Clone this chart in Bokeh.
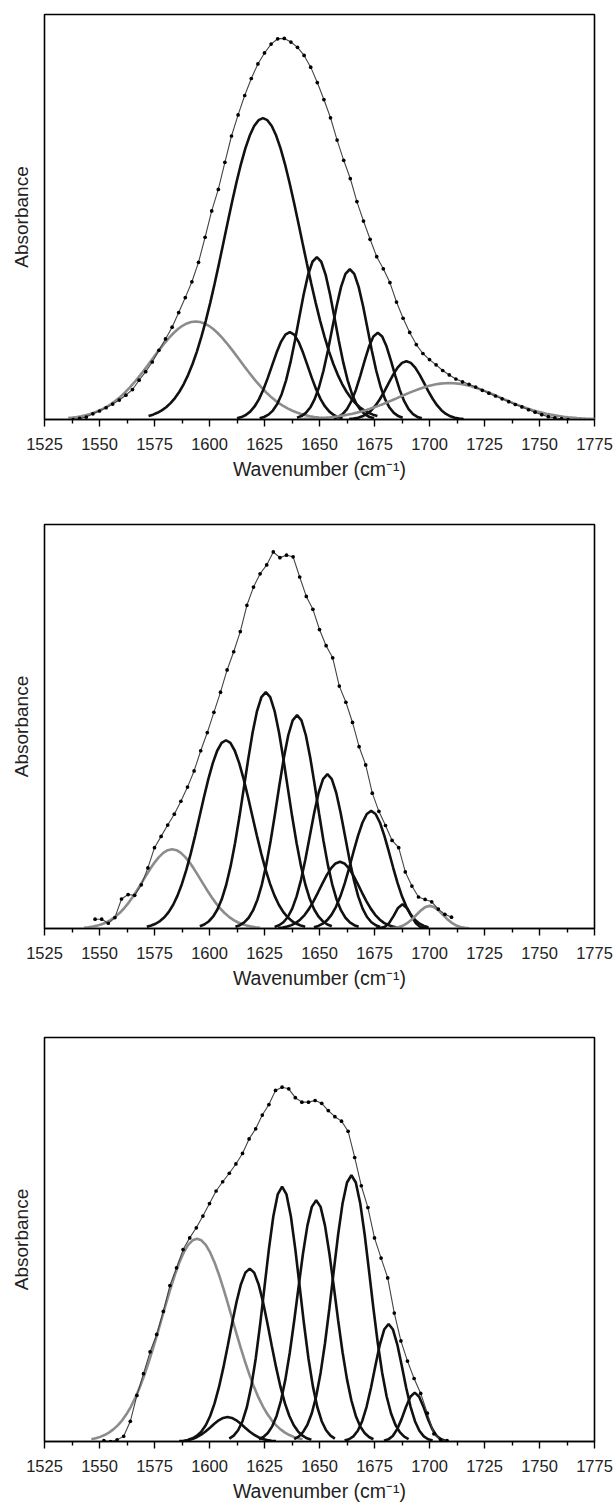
import numpy as np
from bokeh.plotting import figure
from bokeh.layouts import column
from bokeh.models import FixedTicker, Range1d
from bokeh.embed import file_html
from bokeh.resources import INLINE

# ---------------- data ----------------
x_ticks = [1525, 1550, 1575, 1600, 1625, 1650, 1675, 1700, 1725, 1750, 1775]
x_minor = [1537.5, 1562.5, 1587.5, 1612.5, 1637.5, 1662.5, 1687.5, 1712.5, 1737.5, 1762.5]
x_title = "Wavenumber (cm\u207b\u00b9)"
y_title = "Absorbance"

# Panel 1: fitted bands (centre cm-1, height, width sigma cm-1), gray flag
p1_centers = [1593.7, 1624.3, 1636.5, 1648.8, 1663.8, 1676.5, 1689.5, 1709.0]
p1_heights = [0.242, 0.744, 0.216, 0.401, 0.371, 0.214, 0.144, 0.090]
p1_widths = [20.0, 17.4, 8.2, 8.3, 8.0, 6.8, 8.3, 23.0]
p1_gray = [1, 0, 0, 0, 0, 0, 0, 1]
p1_obs_start, p1_obs_step = 1538, 3
p1_obs = [0.000, 0.003, 0.006, 0.014, 0.021, 0.029, 0.038, 0.048, 0.060, 0.074,
          0.097, 0.118, 0.142, 0.171, 0.199, 0.228, 0.264, 0.301, 0.340, 0.388,
          0.450, 0.515, 0.568, 0.635, 0.700, 0.752, 0.800, 0.842, 0.878, 0.905,
          0.927, 0.940, 0.941, 0.932, 0.919, 0.899, 0.870, 0.832, 0.790, 0.745,
          0.690, 0.640, 0.595, 0.538, 0.490, 0.445, 0.402, 0.372, 0.338, 0.290,
          0.250, 0.215, 0.185, 0.163, 0.148, 0.135, 0.121, 0.110, 0.100, 0.093,
          0.087, 0.080, 0.072, 0.065, 0.058, 0.051, 0.044, 0.037, 0.031, 0.024,
          0.018, 0.012, 0.007, 0.004, 0.002, 0.000]

# Panel 2
p2_centers = [1583.0, 1607.5, 1625.6, 1639.8, 1653.6, 1659.3, 1673.5, 1687.7, 1700.1]
p2_heights = [0.196, 0.466, 0.585, 0.528, 0.382, 0.165, 0.291, 0.060, 0.056]
p2_widths = [13.2, 11.8, 9.8, 9.0, 7.9, 9.0, 8.7, 3.5, 6.0]
p2_gray = [1, 0, 0, 0, 0, 0, 0, 0, 1]
p2_obs_start, p2_obs_step = 1548, 3
p2_obs = [0.023, 0.023, 0.013, 0.027, 0.073, 0.084, 0.082, 0.108, 0.150, 0.200,
          0.228, 0.256, 0.283, 0.315, 0.350, 0.390, 0.440, 0.485, 0.535, 0.585,
          0.640, 0.685, 0.735, 0.800, 0.845, 0.878, 0.900, 0.932, 0.918, 0.924,
          0.920, 0.870, 0.822, 0.790, 0.740, 0.700, 0.670, 0.600, 0.560, 0.510,
          0.450, 0.405, 0.335, 0.290, 0.255, 0.218, 0.200, 0.140, 0.105, 0.078,
          0.072, 0.066, 0.048, 0.035, 0.028]

# Panel 3
p3_centers = [1594.3, 1608.2, 1618.3, 1633.0, 1648.5, 1664.5, 1681.4, 1693.3]
p3_heights = [0.502, 0.0605, 0.428, 0.631, 0.597, 0.659, 0.291, 0.121]
p3_widths = [16.0, 7.5, 9.2, 8.0, 8.5, 8.5, 6.4, 4.8]
p3_gray = [1, 0, 0, 0, 0, 0, 0, 0]
p3_obs_start, p3_obs_step = 1552, 3
p3_obs = [0.002, 0.000, 0.004, 0.013, 0.050, 0.114, 0.168, 0.222, 0.265, 0.322,
          0.386, 0.430, 0.475, 0.504, 0.529, 0.558, 0.589, 0.620, 0.643, 0.664,
          0.687, 0.713, 0.749, 0.774, 0.808, 0.834, 0.869, 0.877, 0.873, 0.851,
          0.840, 0.840, 0.844, 0.837, 0.819, 0.804, 0.793, 0.768, 0.703, 0.633,
          0.579, 0.504, 0.454, 0.405, 0.318, 0.249, 0.199, 0.156, 0.119, 0.070,
          0.019, 0.005, 0.002]

FONT = "Liberation Sans"
BLACK = "#111111"
GRAY = "#8c8c8c"


def band(x, c, h, w):
    return h * np.exp(-((x - c) ** 2) / (2.0 * w * w))


def make_panel(centers, heights, widths, gray, obs_start, obs_step, obs,
               top, bottom, height):
    p = figure(width=613, height=height, output_backend="svg", toolbar_location=None,
               x_range=Range1d(1525, 1775), y_range=Range1d(0, 1.0),
               min_border_left=44, min_border_right=19,
               min_border_top=top, min_border_bottom=bottom)
    p.grid.visible = False
    p.outline_line_color = "black"
    p.outline_line_width = 1.6
    p.background_fill_color = "white"
    p.border_fill_color = "white"

    # x axis
    xa = p.xaxis[0]
    xa.ticker = FixedTicker(ticks=x_ticks, minor_ticks=x_minor)
    xa.axis_line_color = "black"
    xa.axis_line_width = 1.6
    xa.major_tick_in = 0
    xa.major_tick_out = 7
    xa.minor_tick_in = 0
    xa.minor_tick_out = 4
    xa.major_tick_line_width = 1.4
    xa.minor_tick_line_width = 1.4
    xa.major_tick_line_color = "black"
    xa.minor_tick_line_color = "black"
    xa.major_label_text_font = FONT
    xa.major_label_text_font_size = "16.5px"
    xa.major_label_text_color = "#222222"
    xa.major_label_standoff = 11
    xa.axis_label = x_title
    xa.axis_label_text_font = FONT
    xa.axis_label_text_font_size = "19.5px"
    xa.axis_label_text_font_style = "normal"
    xa.axis_label_text_color = "#222222"
    xa.axis_label_standoff = 5

    # y axis
    ya = p.yaxis[0]
    ya.ticker = FixedTicker(ticks=[])
    ya.axis_line_color = None
    ya.major_tick_line_color = None
    ya.minor_tick_line_color = None
    ya.major_label_text_font_size = "0px"
    ya.axis_label = y_title
    ya.axis_label_text_font = FONT
    ya.axis_label_text_font_size = "19px"
    ya.axis_label_text_font_style = "normal"
    ya.axis_label_text_color = "#222222"
    ya.axis_label_standoff = 13

    # component bands
    for c, h, w, g in zip(centers, heights, widths, gray):
        n = int(np.ceil(2.9 * w / 2.0))
        xs = c + 2.0 * np.arange(-n, n + 1)
        ys = band(xs, c, h, w)
        p.line(xs, ys, line_color=GRAY if g else BLACK, line_width=2.6)

    # envelope through the measured spectrum
    x_obs = obs_start + obs_step * np.arange(len(obs))
    p.line(x_obs, obs, line_color="#444444", line_width=1.1)

    # observed points
    p.scatter(x_obs, obs, size=3.7, fill_color="black", line_color=None)
    return p


p1 = make_panel(p1_centers, p1_heights, p1_widths, p1_gray,
                p1_obs_start, p1_obs_step, p1_obs, top=14, bottom=81, height=500)
p2 = make_panel(p2_centers, p2_heights, p2_widths, p2_gray,
                p2_obs_start, p2_obs_step, p2_obs, top=24, bottom=82, height=510)
p3 = make_panel(p3_centers, p3_heights, p3_widths, p3_gray,
                p3_obs_start, p3_obs_step, p3_obs, top=27, bottom=63, height=494)

layout = column(p1, p2, p3, spacing=0)
open("out.html", "w").write(file_html(layout, INLINE))
